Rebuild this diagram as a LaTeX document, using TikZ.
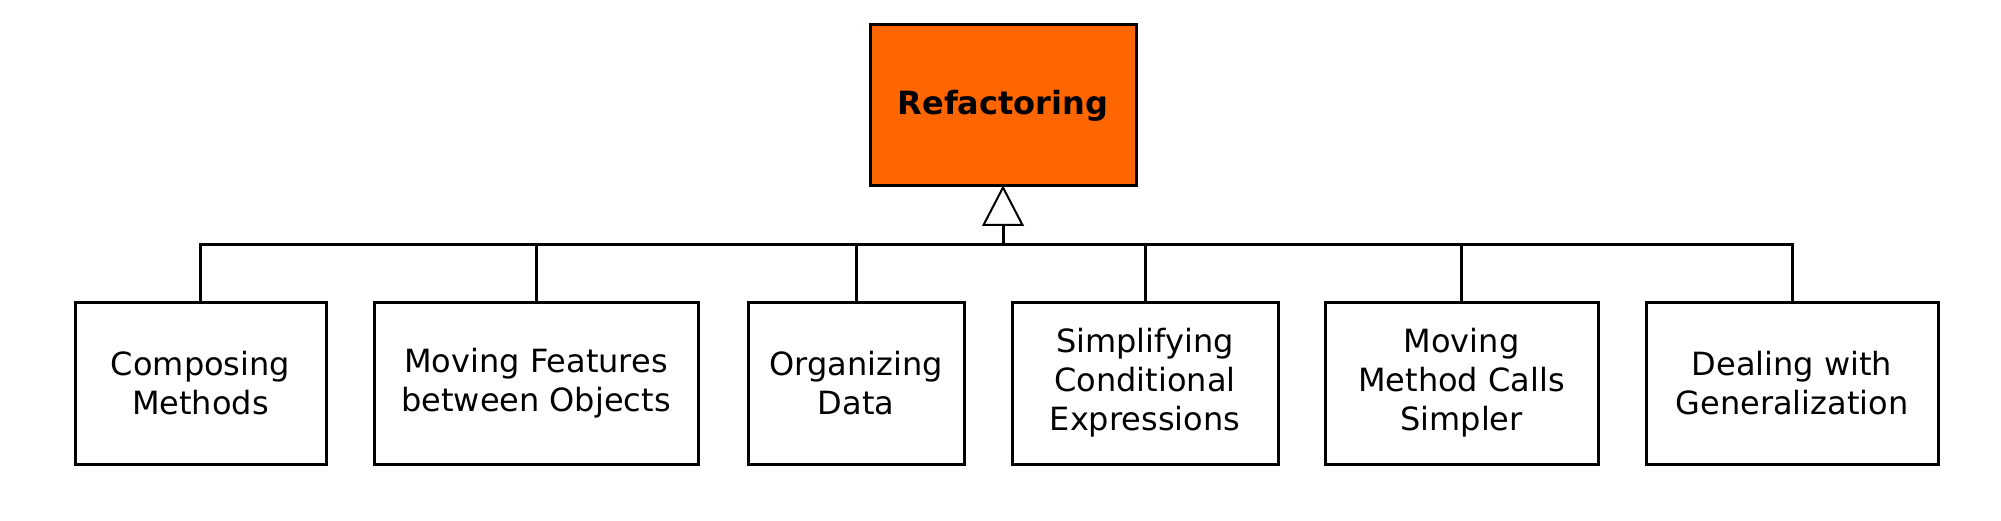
\documentclass[tikz,border=0pt]{standalone}
\usepackage{fontspec}
\setmainfont{DejaVu Sans}
\begin{document}
\begin{tikzpicture}[x=1pt,y=-1pt,
  box/.style={draw=black, line width=3pt, fill=white, rectangle, inner sep=0pt,
    minimum height=162pt, align=center, font=\fontsize{32pt}{39pt}\selectfont},
  topbox/.style={draw=black, line width=3pt, fill=orangeA, rectangle, inner sep=0pt,
    minimum width=266pt, minimum height=161pt, font=\fontsize{32pt}{39pt}\selectfont\bfseries},
  conn/.style={line width=3pt, draw=black}]
\definecolor{orangeA}{HTML}{FF6600}
\useasboundingbox (0,0) rectangle (2001,521);
\fill[white] (0,0) rectangle (2001,521);

\coordinate (bar) at (1003,244.5);
\coordinate (tb) at (1003,225);

\node[box, minimum width=251pt] (c1) at (200.5,383) {Composing\\Methods};
\node[box, minimum width=324pt] (c2) at (536,383) {Moving Features\\between Objects};
\node[box, minimum width=216pt] (c3) at (856,383) {Organizing\\Data};
\node[box, minimum width=266pt] (c4) at (1145,383) {Simplifying\\Conditional\\Expressions};
\node[box, minimum width=273pt] (c5) at (1461.5,383) {Moving\\Method Calls\\Simpler};
\node[box, minimum width=292pt] (c6) at (1792,383) {Dealing with\\Generalization};

\draw[conn] (c1.north) -- (c1.north |- bar) -- (c6.north |- bar) -- (c6.north);
\draw[conn] (c2.north) -- (c2.north |- bar);
\draw[conn] (c3.north) -- (c3.north |- bar);
\draw[conn] (c4.north) -- (c4.north |- bar);
\draw[conn] (c5.north) -- (c5.north |- bar);
\draw[conn] (bar) -- (tb);

\node[topbox] (top) at (1003,105.5) {Refactoring};
\draw[line width=2pt, fill=white, line join=miter] (top.south) -- ([xshift=-19.5pt]tb) -- ([xshift=19.5pt]tb) -- cycle;
\end{tikzpicture}
\end{document}
